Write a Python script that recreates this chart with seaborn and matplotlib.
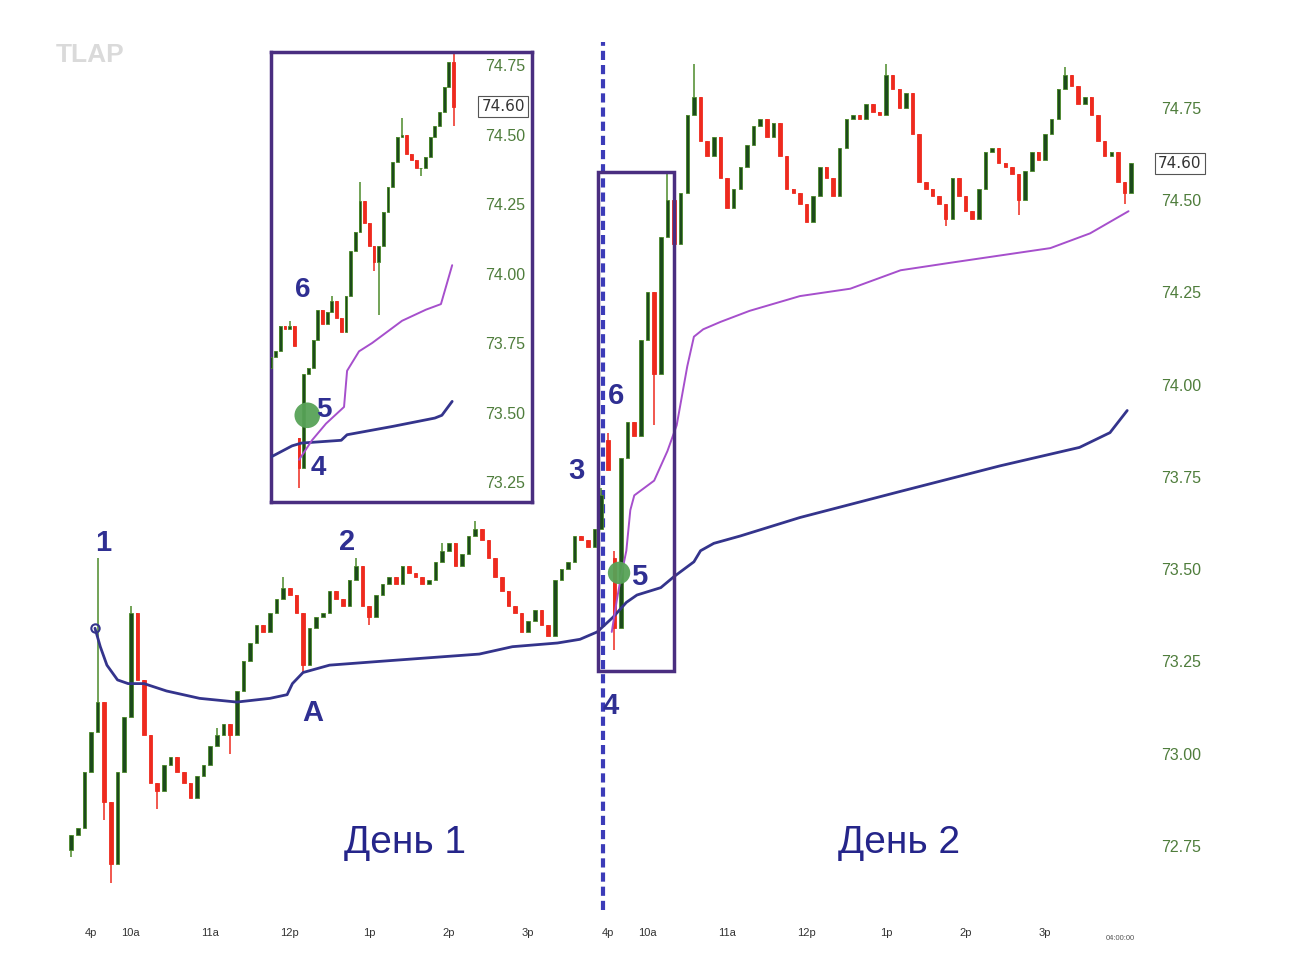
import matplotlib.pyplot as plt
import matplotlib.patches as mpatches
import matplotlib.transforms as mtransforms
import numpy as np
import pandas as pd
import seaborn as sns

# ---- data (minutes from day-1 9:30, price) ----
# 5-minute closes, day 1 starts at -15, day 2 at 390
day1_close = [72.78, 72.80, 72.95, 73.06, 73.14, 72.87, 72.70, 72.95, 73.10, 73.38,
              73.20, 73.05, 72.92, 72.90, 72.97, 72.99, 72.95, 72.92, 72.88, 72.94,
              72.97, 73.02, 73.05, 73.08, 73.05, 73.17, 73.25, 73.30, 73.35, 73.33,
              73.38, 73.42, 73.45, 73.43, 73.38, 73.24, 73.34, 73.37, 73.38, 73.44,
              73.42, 73.40, 73.47, 73.51, 73.40, 73.37, 73.43, 73.46, 73.48, 73.46,
              73.51, 73.49, 73.48, 73.46, 73.47, 73.52, 73.55, 73.57, 73.51, 73.54,
              73.59, 73.61, 73.58, 73.53, 73.48, 73.44, 73.40, 73.38, 73.33, 73.36,
              73.39, 73.35, 73.32, 73.47, 73.50, 73.52, 73.59, 73.58, 73.56, 73.61,
              73.70]
day2_close = [73.77, 73.34, 73.80, 73.90, 73.86, 74.12, 74.25, 74.03, 74.40, 74.50,
              74.38, 74.52, 74.73, 74.78, 74.66, 74.62, 74.67, 74.56, 74.48, 74.53,
              74.59, 74.65, 74.70, 74.72, 74.67, 74.71, 74.62, 74.53, 74.52, 74.49,
              74.44, 74.51, 74.59, 74.56, 74.51, 74.64, 74.72, 74.73, 74.72, 74.76,
              74.74, 74.73, 74.84, 74.80, 74.75, 74.79, 74.68, 74.55, 74.53, 74.51,
              74.49, 74.45, 74.56, 74.51, 74.47, 74.45, 74.53, 74.63, 74.64, 74.60,
              74.59, 74.57, 74.50, 74.58, 74.63, 74.61, 74.68, 74.72, 74.80, 74.84,
              74.81, 74.76, 74.78, 74.73, 74.66, 74.62, 74.63, 74.55, 74.52, 74.60]
gap_opens = {-15: 72.74, 390: 73.85, 395: 73.53}
wick_highs = {5: 73.53, 30: 73.40, 95: 73.07, 145: 73.48, 200: 73.53, 265: 73.57,
              290: 73.63, 385: 73.72, 390: 73.87, 395: 73.55, 435: 74.58,
              455: 74.87, 600: 74.87, 735: 74.86}
wick_lows = {-15: 72.72, 10: 72.82, 15: 72.65, 50: 72.85, 105: 73.00, 160: 73.22,
             210: 73.35, 395: 73.28, 425: 73.89, 645: 74.43, 700: 74.46, 780: 74.49}

# anchored VWAP from day 1 open, and from day 2 open
vwap1_time = [3, 7, 12, 20, 28, 40, 57, 82, 110, 135, 148, 152, 160, 180, 217, 255, 293,
              318, 352, 369, 382, 394, 404, 412, 430, 440, 455, 460, 470, 490, 535, 610,
              686, 746, 769, 782]
vwap1_price = [73.34, 73.29, 73.24, 73.20, 73.19, 73.19, 73.17, 73.15, 73.14, 73.15,
               73.16, 73.19, 73.22, 73.24, 73.25, 73.26, 73.27, 73.29, 73.30, 73.31,
               73.33, 73.37, 73.41, 73.43, 73.45, 73.48, 73.52, 73.55, 73.57, 73.59,
               73.64, 73.71, 73.78, 73.83, 73.87, 73.93]
vwap2_time = [393, 397, 400, 404, 407, 410, 425, 435, 442, 450, 455, 462, 475, 497,
              535, 573, 611, 648, 686, 724, 754, 783]
vwap2_price = [73.33, 73.42, 73.48, 73.55, 73.66, 73.70, 73.74, 73.82, 73.89, 74.05,
               74.13, 74.15, 74.17, 74.20, 74.24, 74.26, 74.31, 74.33, 74.35, 74.37,
               74.41, 74.47]
signal_time = [398.5]
signal_price = [73.49]

# inset: 2-minute bars around the day-2 open
inset_close = [73.70, 73.72, 73.81, 73.80, 73.81, 73.74, 73.30, 73.64, 73.66, 73.76,
               73.87, 73.82, 73.86, 73.90, 73.84, 73.79, 73.92, 74.08, 74.15, 74.26,
               74.18, 74.10, 74.04, 74.10, 74.22, 74.31, 74.40, 74.49, 74.50, 74.43,
               74.41, 74.38, 74.38, 74.42, 74.49, 74.53, 74.58, 74.67, 74.76, 74.60]
inset_gap_opens = {378: 73.66, 390: 73.41}
inset_wick_highs = {386: 73.83, 404: 73.92, 416: 74.33, 434: 74.56, 456: 74.79}
inset_wick_lows = {390: 73.23, 422: 74.01, 424: 73.85, 442: 74.35, 456: 74.53}
inset_vwap1_time = [378, 387, 391, 408, 410.5, 430, 448, 451, 455.4]
inset_vwap1_price = [73.34, 73.38, 73.39, 73.40, 73.42, 73.45, 73.48, 73.49, 73.54]
inset_vwap2_time = [390, 395.5, 401.5, 409.2, 410.5, 415.6, 421.2, 434, 444.2, 450.6, 455.4]
inset_vwap2_price = [73.33, 73.40, 73.46, 73.52, 73.65, 73.72, 73.75, 73.83, 73.87, 73.89, 74.03]
inset_signal_time = [393.5]
inset_signal_price = [73.49]

price_ticks = [72.75, 73.00, 73.25, 73.50, 73.75, 74.00, 74.25, 74.50, 74.75]
inset_ticks = [73.25, 73.50, 73.75, 74.00, 74.25, 74.50, 74.75]
time_ticks = [0, 30, 90, 150, 210, 270, 330, 390, 420, 480, 540, 600, 660, 720]
time_labels = ["4p", "10a", "11a", "12p", "1p", "2p", "3p",
               "4p", "10a", "11a", "12p", "1p", "2p", "3p"]
last_price = 74.60

UP = "#1c4a1c"
UP_EDGE = "#4c8a2a"
DOWN = "#ee2a1e"
NAVY = "#34348c"
PURPLE = "#a64fcc"
BOX = "#4a2e80"
LABEL = "#2f2f92"
TICK_GREEN = "#4f7d3c"


def candle_frame(times, closes, gaps, highs, lows):
    opens = [gaps.get(times[0])] + list(closes[:-1])
    opens = [gaps.get(t, o) for t, o in zip(times, opens)]
    df = pd.DataFrame({"time": times, "open": opens, "close": closes})
    df["high"] = [max(o, c, highs.get(t, c)) for t, o, c in zip(times, df["open"], df["close"])]
    df["low"] = [min(o, c, lows.get(t, c)) for t, o, c in zip(times, df["open"], df["close"])]
    return df


def draw_candles(ax, df, width):
    up = (df["close"] >= df["open"]).to_numpy()
    body = np.where(up, UP, DOWN)
    wick = np.where(up, UP_EDGE, DOWN)
    ax.vlines(df["time"], df["low"], df["high"], colors=wick, linewidth=1.1, zorder=2)
    ax.bar(df["time"], df["close"] - df["open"], bottom=df["open"], width=width,
           color=body, edgecolor=wick, linewidth=0.6, zorder=3)


sns.set_theme(style="white")
plt.rcParams["font.family"] = ["Liberation Sans", "DejaVu Sans"]

times = np.concatenate([np.arange(-15, -15 + 5 * len(day1_close), 5),
                        np.arange(390, 390 + 5 * len(day2_close), 5)])
bars = candle_frame(times, day1_close + day2_close, gap_opens, wick_highs, wick_lows)

W, H = 1290, 967
fig = plt.figure(figsize=(W / 100, H / 100), dpi=100)
fig.patch.set_facecolor("white")

ax = fig.add_axes([40 / W, 1 - 915 / H, 1110 / W, 885 / H])
ax.set_xlim(-38.5, 799.2)
ax.set_ylim(72.563, 74.961)

draw_candles(ax, bars, 2.7)
sns.lineplot(x=vwap1_time, y=vwap1_price, ax=ax, color=NAVY, linewidth=2, zorder=4)
ax.plot(vwap1_time[:1], vwap1_price[:1], "o", ms=6, mfc="none", mec=NAVY, mew=1.5, zorder=5)
sns.lineplot(x=vwap2_time, y=vwap2_price, ax=ax, color=PURPLE, linewidth=1.4, zorder=4)
sns.scatterplot(x=signal_time, y=signal_price, ax=ax, s=260, color="#57a257",
                edgecolor="none", alpha=0.95, zorder=6)

ax.axvline(386.4, ymin=0.006, ymax=0.986, color="#3b3bb8", linewidth=3,
           linestyle=(0, (2.2, 1.2)), zorder=1)
ax.add_patch(mpatches.Rectangle((382.6, 73.224), 57.4, 1.353, fill=False,
                                edgecolor=BOX, linewidth=2.5, zorder=5))

for s in ax.spines.values():
    s.set_visible(False)
ax.yaxis.tick_right()
ax.set_yticks(price_ticks)
ax.set_yticklabels([f"{p:.2f}" for p in price_ticks])
ax.tick_params(axis="y", length=0, pad=8, labelsize=11.5, labelcolor=TICK_GREEN)
ax.set_xticks(time_ticks)
ax.set_xticklabels(time_labels)
ax.tick_params(axis="x", length=0, pad=9, labelsize=8, labelcolor="#333333")
ax.set_xlabel("")
ax.set_ylabel("")
ax.grid(False)

blend = mtransforms.blended_transform_factory(ax.transAxes, ax.transData)
ax.text(1.027, last_price, f"{last_price:.2f}", transform=blend, ha="center", va="center",
        fontsize=11, color="#333333", family="DejaVu Sans",
        bbox=dict(boxstyle="square,pad=0.2", fc="white", ec="#555555", lw=0.8))
ax.text(0.973, -0.026, "04:00:00", transform=ax.transAxes, ha="center", va="center",
        fontsize=5.5, color="#555555")

for txt, t, p in [("1", 9.1, 73.571), ("2", 193.2, 73.574), ("A", 167.5, 73.110),
                  ("3", 366, 73.766), ("4", 392.5, 73.129), ("5", 413.6, 73.479),
                  ("6", 396.2, 73.97)]:
    ax.text(t, p, txt, ha="center", va="center", fontsize=21, fontweight="bold",
            color=LABEL, zorder=7)
ax.text(237, 72.758, "День 1", ha="center", va="center", fontsize=28, color="#25258a")
ax.text(609.8, 72.758, "День 2", ha="center", va="center", fontsize=28, color="#25258a")
fig.text(90 / W, 1 - 55 / H, "TLAP", ha="center", va="center", fontsize=19,
         fontweight="bold", color="#dadada")

# ---- inset ----
ins = fig.add_axes([271 / W, 1 - 502 / H, 261 / W, 450 / H])
ins.set_facecolor("white")
ins.set_xlim(378, 489.5)
ins.set_ylim(73.178, 74.797)
inset_times = np.arange(378, 378 + 2 * len(inset_close), 2)
ibars = candle_frame(inset_times, inset_close, inset_gap_opens, inset_wick_highs, inset_wick_lows)
draw_candles(ins, ibars, 1.2)
sns.lineplot(x=inset_vwap1_time, y=inset_vwap1_price, ax=ins, color=NAVY, linewidth=2, zorder=4)
sns.lineplot(x=inset_vwap2_time, y=inset_vwap2_price, ax=ins, color=PURPLE, linewidth=1.4, zorder=4)
sns.scatterplot(x=inset_signal_time, y=inset_signal_price, ax=ins, s=340, color="#57a257",
                edgecolor="none", alpha=0.95, zorder=6)
for s in ins.spines.values():
    s.set_visible(True)
    s.set_color(BOX)
    s.set_linewidth(2.5)
ins.yaxis.tick_right()
ins.set_yticks(inset_ticks)
ins.set_yticklabels([f"{p:.2f}" for p in inset_ticks])
ins.tick_params(axis="y", length=0, pad=-34, labelsize=11.5, labelcolor=TICK_GREEN)
ins.set_xticks([])
ins.set_xlabel("")
ins.set_ylabel("")
iblend = mtransforms.blended_transform_factory(ins.transAxes, ins.transData)
ins.text(0.889, last_price, f"{last_price:.2f}", transform=iblend, ha="center", va="center",
         fontsize=11, color="#333333", family="DejaVu Sans",
         bbox=dict(boxstyle="square,pad=0.2", fc="white", ec="#555555", lw=0.8))
for txt, t, p in [("6", 391.7, 73.94), ("5", 400.6, 73.51), ("4", 398.1, 73.30)]:
    ins.text(t, p, txt, ha="center", va="center", fontsize=20, fontweight="bold",
             color=LABEL, zorder=7)

fig.savefig("out.png", dpi=100, facecolor="white")
